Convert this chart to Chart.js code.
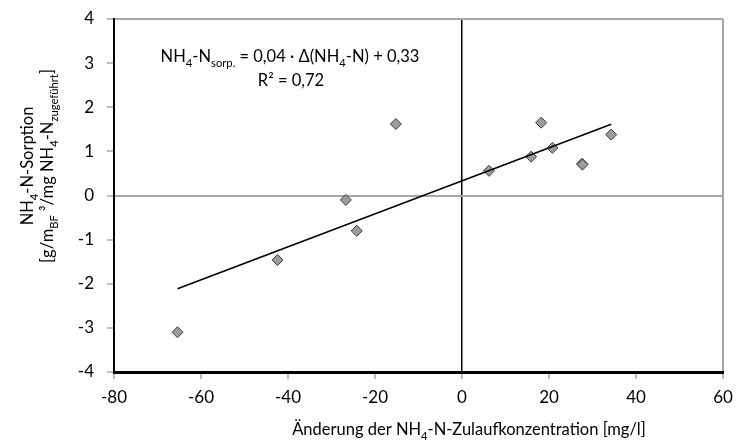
<!DOCTYPE html>
<html>
<head>
<meta charset="utf-8">
<script src="https://cdn.jsdelivr.net/npm/chart.js@4.4.1/dist/chart.umd.min.js"></script>
<style>
  html, body { margin: 0; padding: 0; background: #fff; }
  #wrap { width: 736px; height: 446px; }
</style>
</head>
<body>
<div id="wrap"><canvas id="sorptionChart" width="736" height="446"></canvas></div>
<script>
// Messwerte: Änderung der Zulaufkonzentration vs. NH4-N-Sorption
const deltaNH4 = [-65.4, -42.4, -26.7, -24.2, -15.2, 6.2, 15.9, 18.2, 20.8, 27.6, 27.7, 34.3];
const sorption = [-3.10, -1.46, -0.10, -0.80, 1.62, 0.56, 0.88, 1.65, 1.08, 0.72, 0.70, 1.38];

// lineare Trendlinie (Excel)
const trendSlope = 0.0374;
const trendIntercept = 0.33;

const xTicks = [-80, -60, -40, -20, 0, 20, 40, 60];
const yTicks = [-4, -3, -2, -1, 0, 1, 2, 3, 4];

const FONT = 'Lato, "Open Sans", sans-serif';
const FS = 17;     // Achsenbeschriftung
const FS_T = 16.5; // Titel und Gleichung

const points = deltaNH4.map((x, i) => ({ x: x, y: sorption[i] }));
const xMinData = Math.min(...deltaNH4);
const xMaxData = Math.max(...deltaNH4);
const trend = [xMinData, xMaxData].map(x => ({ x: x, y: trendSlope * x + trendIntercept }));

// Text mit Tief-/Hochstellungen zeichnen; segs = [[text, 'sub'|'sup'|null], ...]
function richWidth(ctx, segs, size) {
  let w = 0;
  segs.forEach(([t, mode]) => {
    ctx.font = (mode ? size * 0.68 : size) + 'px ' + FONT;
    w += ctx.measureText(t).width;
  });
  return w;
}
function drawRich(ctx, segs, x, y, size) {
  let cx = x;
  segs.forEach(([t, mode]) => {
    const s = mode ? size * 0.68 : size;
    ctx.font = s + 'px ' + FONT;
    let dy = 0;
    if (mode === 'sub') dy = size * 0.28;
    if (mode === 'sup') dy = -size * 0.38;
    ctx.fillText(t, cx, y + dy);
    cx += ctx.measureText(t).width;
  });
}
function drawRichCentered(ctx, segs, cx, y, size) {
  const w = richWidth(ctx, segs, size);
  drawRich(ctx, segs, cx - w / 2, y, size);
}

const eqLine1 = [['NH', null], ['4', 'sub'], ['-N', null], ['sorp.', 'sub'], [' = 0,04 · Δ(NH', null], ['4', 'sub'], ['-N) + 0,33', null]];
const eqLine2 = [['R² = 0,72', null]];
const xTitle = [['Änderung der NH', null], ['4', 'sub'], ['-N-Zulaufkonzentration [mg/l]', null]];
const yTitle1 = [['NH', null], ['4', 'sub'], ['-N-Sorption', null]];
const yTitle2 = [['[g/m', null], ['BF', 'sub'], [' ³/mg NH', null], ['4', 'sub'], ['-N', null], ['zugeführt', 'sub'], [']', null]];

const labelPlugin = {
  id: 'richLabels',
  afterDraw(chart) {
    const ctx = chart.ctx;
    ctx.save();
    ctx.fillStyle = '#000';
    ctx.textBaseline = 'alphabetic';
    ctx.textAlign = 'left';
    // Regressionsgleichung
    drawRichCentered(ctx, eqLine1, 290, 62, FS_T);
    drawRichCentered(ctx, eqLine2, 291, 86, FS_T);
    // x-Achsentitel
    drawRichCentered(ctx, xTitle, 469, 435, FS_T);
    // y-Achsentitel (gedreht)
    ctx.translate(0, 166);
    ctx.rotate(-Math.PI / 2);
    drawRichCentered(ctx, yTitle1, 0, 33, FS_T);
    drawRichCentered(ctx, yTitle2, 0, 53, FS_T);
    ctx.restore();
  }
};

new Chart(document.getElementById('sorptionChart'), {
  type: 'scatter',
  data: {
    datasets: [{
      label: 'Trend',
      data: trend,
      showLine: true,
      borderColor: '#000',
      borderWidth: 1.6,
      pointRadius: 0,
      order: 0
    }, {
      label: 'NH4-N-Sorption',
      data: points,
      pointStyle: 'rectRot',
      pointRadius: 5.5,
      backgroundColor: '#9c9c9c',
      borderColor: '#3a3a3a',
      borderWidth: 1,
      order: 1
    }]
  },
  options: {
    responsive: false,
    animation: false,
    layout: { padding: { top: 19, right: 13, left: 0, bottom: 0 } },
    plugins: {
      legend: { display: false },
      tooltip: { enabled: false }
    },
    scales: {
      x: {
        type: 'linear',
        min: -80,
        max: 60,
        afterBuildTicks: s => { s.ticks = xTicks.map(v => ({ value: v })); },
        afterFit: s => { s.height = 74; s.paddingLeft = 0; s.paddingRight = 0; },
        ticks: { color: '#000', font: { family: FONT, size: FS }, padding: 8 },
        grid: {
          color: c => c.tick.value === 0 ? '#000' : (c.tick.value === 60 ? '#a6a6a6' : 'rgba(0,0,0,0)'),
          lineWidth: c => c.tick.value === 0 ? 1.5 : 2,
          tickColor: '#a6a6a6',
          tickLength: 7,
          tickWidth: 1.5
        },
        border: { color: '#000', width: 3 }
      },
      y: {
        type: 'linear',
        min: -4,
        max: 4,
        afterBuildTicks: s => { s.ticks = yTicks.map(v => ({ value: v })); },
        afterFit: s => { s.width = 114; s.paddingTop = 0; s.paddingBottom = 0; },
        ticks: { color: '#000', font: { family: FONT, size: FS }, padding: 13 },
        grid: {
          color: c => (c.tick.value === 0 || c.tick.value === 4) ? '#a6a6a6' : 'rgba(0,0,0,0)',
          lineWidth: 2,
          tickColor: '#a6a6a6',
          tickLength: 7,
          tickWidth: 1.5
        },
        border: { color: '#000', width: 2 }
      }
    }
  },
  plugins: [labelPlugin]
});
</script>
</body>
</html>
